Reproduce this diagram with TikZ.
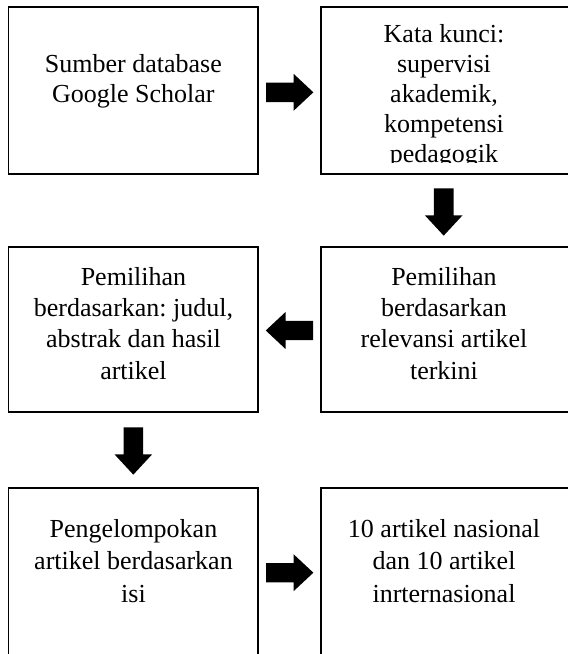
\documentclass[tikz,border=0pt]{standalone}
\usepackage{fontspec}
\setmainfont{Liberation Serif}
\frenchspacing
\newcommand{\blkArrowRight}[1]{\fill[black, shift={(#1)}] (-23.65,-9.7) -- (3.85,-9.7) -- (3.85,-18.5) -- (23.65,0) -- (3.85,18.5) -- (3.85,9.7) -- (-23.65,9.7) -- cycle;}
\newcommand{\blkArrowLeft}[1]{\fill[black, shift={(#1)}] (23.65,-9.7) -- (-3.85,-9.7) -- (-3.85,-18.5) -- (-23.65,0) -- (-3.85,18.5) -- (-3.85,9.7) -- (23.65,9.7) -- cycle;}
\newcommand{\blkArrowDown}[1]{\fill[black, shift={(#1)}] (-9.8,-23.65) -- (-9.8,3.35) -- (-18.8,3.35) -- (0,23.65) -- (18.8,3.35) -- (9.8,3.35) -- (9.8,-23.65) -- cycle;}
\begin{document}
\begin{tikzpicture}[x=1pt,y=-1pt,
  box/.style={draw=black, line width=1.8pt, rectangle, minimum width=249.8pt, inner sep=0pt},
  txt/.style={align=center, inner sep=0pt, anchor=north, text=black},
]
\clip (0,0) rectangle (568,654);
\fill[white] (0,0) rectangle (568,654);
% boxes
\node[box, minimum height=166.7pt] (b1) at (133.4,90.65) {};
\node[box, minimum height=166.7pt] (b2) at (445.9,90.65) {};
\node[box, minimum height=165pt] (b4) at (133.4,329.5) {};
\node[box, minimum height=165pt] (b3) at (445.9,329.5) {};
\node[box, minimum height=167pt] (b5) at (133.4,571.5) {};
\node[box, minimum height=167pt] (b6) at (445.9,571.5) {};
% texts
\node[txt, font=\fontsize{26}{30}\selectfont\frenchspacing] (t1) at (133.4,52)
  {\rule{0pt}{20pt}Sumber database\\Google Scholar};
\begin{scope}
\clip (321,7) rectangle (600,162.3);
\node[txt, font=\fontsize{26}{30}\selectfont\frenchspacing] (t2) at (444,22)
  {\rule{0pt}{20pt}Kata kunci:\\supervisi\\akademik,\\kompetensi\\pedagogik};
\end{scope}
\node[txt, font=\fontsize{26}{31.3}\selectfont\frenchspacing] (t3) at (444,265)
  {\rule{0pt}{20pt}Pemilihan\\berdasarkan\\relevansi artikel\\terkini};
\node[txt, font=\fontsize{26}{31.3}\selectfont\frenchspacing] (t4) at (133.5,265)
  {\rule{0pt}{20pt}Pemilihan\\berdasarkan: judul,\\abstrak dan hasil\\artikel};
\node[txt, font=\fontsize{26}{32.5}\selectfont\frenchspacing] (t5) at (133.5,517)
  {\rule{0pt}{20pt}Pengelompokan\\artikel berdasarkan\\isi};
\node[txt, font=\fontsize{26}{32.5}\selectfont\frenchspacing] (t6) at (444,517)
  {\rule{0pt}{20pt}10 artikel nasional\\dan 10 artikel\\inrternasional};
% block arrows
\blkArrowRight{289.7,92.3}
\blkArrowDown{443.7,212}
\blkArrowLeft{289.4,330.5}
\blkArrowDown{133.3,451}
\blkArrowRight{289.7,572.7}
\end{tikzpicture}
\end{document}
